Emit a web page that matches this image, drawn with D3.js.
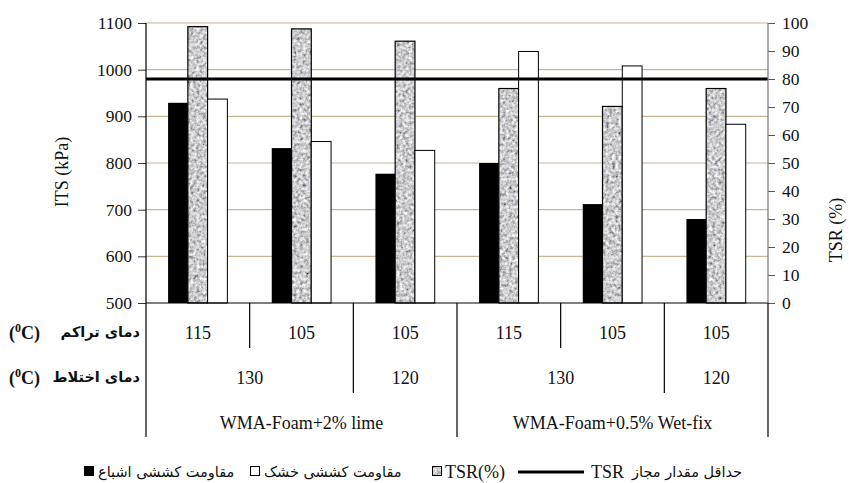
<!DOCTYPE html>
<html>
<head>
<meta charset="utf-8">
<script src="https://cdn.jsdelivr.net/npm/d3@7"></script>
<style>
  body { margin: 0; background: #fff; }
</style>
</head>
<body>
<script>
// chart values
const compactTemps = ["115", "105", "105", "115", "105", "105"];
const mixTemps = ["130", "130", "120", "130", "130", "120"];
const groups = ["WMA-Foam+2% lime", "WMA-Foam+2% lime", "WMA-Foam+2% lime",
                "WMA-Foam+0.5% Wet-fix", "WMA-Foam+0.5% Wet-fix", "WMA-Foam+0.5% Wet-fix"];
const itsWet = [929, 832, 777, 800, 712, 680];
const itsDry = [937, 846, 827, 1039, 1008, 883];
const tsr = [98.7, 97.9, 93.5, 76.6, 70.2, 76.6];
const tsrMin = 80;
const leftTicks = [500, 600, 700, 800, 900, 1000, 1100];
const rightTicks = [0, 10, 20, 30, 40, 50, 60, 70, 80, 90, 100];

const W = 849, H = 483;
const pL = 146, pR = 768, pT = 23, pB = 303;
const SERIF = "'Liberation Serif', 'Times New Roman', Tinos, 'DejaVu Serif', serif";
const FA = "'DejaVu Sans', 'Noto Sans', sans-serif";

const svg = d3.select("body").append("svg")
  .attr("width", W)
  .attr("height", H)
  .attr("font-family", SERIF);

// grey texture for TSR bars
const defs = svg.append("defs");
const f = defs.append("filter").attr("id", "granite")
  .attr("x", 0).attr("y", 0).attr("width", 1).attr("height", 1);
f.append("feTurbulence").attr("type", "fractalNoise")
  .attr("baseFrequency", 0.32).attr("numOctaves", 3).attr("seed", 5).attr("result", "n");
f.append("feColorMatrix").attr("in", "n").attr("type", "matrix")
  .attr("values", "0.85 0.85 0 0 -0.25  0.85 0.85 0 0 -0.25  0.85 0.85 0 0 -0.23  0 0 0 0 1")
  .attr("result", "g");
f.append("feComposite").attr("in", "g").attr("in2", "SourceGraphic").attr("operator", "in");

const idx = d3.range(compactTemps.length);
const x = d3.scaleBand().domain(idx).range([pL, pR]).padding(0);
const bw = x.bandwidth();
const sub = d3.scaleBand().domain(["wet", "tsr", "dry"])
  .range([bw * 0.213, bw * 0.785]).padding(0);
const yL = d3.scaleLinear().domain([500, 1100]).range([pB, pT]);
const yR = d3.scaleLinear().domain([0, 100]).range([pB, pT]);

// gridlines
svg.append("g").selectAll("line").data(leftTicks.slice(1)).join("line")
  .attr("x1", pL).attr("x2", pR)
  .attr("y1", d => yL(d)).attr("y2", d => yL(d))
  .attr("stroke", "#c8b795").attr("stroke-width", 1.2);

// left axis
const axL = svg.append("g").attr("transform", `translate(${pL},0)`)
  .call(d3.axisLeft(yL).tickValues(leftTicks).tickSize(8).tickPadding(6).tickFormat(d3.format("d")))
  .attr("font-family", SERIF).attr("font-size", 17.5);
axL.select(".domain").remove();
axL.selectAll("line").attr("stroke", "#333");
axL.selectAll("text").attr("fill", "#111");

// right axis
const axR = svg.append("g").attr("transform", `translate(${pR},0)`)
  .call(d3.axisRight(yR).tickValues(rightTicks).tickSize(7).tickPadding(7))
  .attr("font-family", SERIF).attr("font-size", 17.5);
axR.select(".domain").remove();
axR.selectAll("line").attr("stroke", "#555");
axR.selectAll("text").attr("fill", "#111");

// bars
const bars = svg.append("g");
bars.selectAll(".wet").data(idx).join("rect")
  .attr("x", i => x(i) + sub("wet")).attr("width", sub.bandwidth())
  .attr("y", i => yL(itsWet[i])).attr("height", i => pB - yL(itsWet[i]))
  .attr("fill", "#000");
bars.selectAll(".tsrfill").data(idx).join("rect")
  .attr("x", i => x(i) + sub("tsr")).attr("width", sub.bandwidth())
  .attr("y", i => yR(tsr[i])).attr("height", i => pB - yR(tsr[i]))
  .attr("fill", "#fff").attr("filter", "url(#granite)");
bars.selectAll(".tsrline").data(idx).join("rect")
  .attr("x", i => x(i) + sub("tsr")).attr("width", sub.bandwidth())
  .attr("y", i => yR(tsr[i])).attr("height", i => pB - yR(tsr[i]))
  .attr("fill", "none").attr("stroke", "#000").attr("stroke-width", 1.2);
bars.selectAll(".dry").data(idx).join("rect")
  .attr("x", i => x(i) + sub("dry")).attr("width", sub.bandwidth())
  .attr("y", i => yL(itsDry[i])).attr("height", i => pB - yL(itsDry[i]))
  .attr("fill", "#fff").attr("stroke", "#000").attr("stroke-width", 1);

// minimum TSR line
svg.append("line")
  .attr("x1", pL).attr("x2", pR)
  .attr("y1", yR(tsrMin)).attr("y2", yR(tsrMin))
  .attr("stroke", "#000").attr("stroke-width", 3);

// axis frame
const row1 = 348, row2 = 393, row3 = 437;
svg.append("line").attr("x1", pL).attr("x2", pR).attr("y1", pB).attr("y2", pB)
  .attr("stroke", "#000").attr("stroke-width", 1.2);
svg.append("line").attr("x1", pL).attr("x2", pL).attr("y1", pT).attr("y2", row3)
  .attr("stroke", "#000").attr("stroke-width", 1.2);
svg.append("line").attr("x1", pR).attr("x2", pR).attr("y1", pT).attr("y2", pB)
  .attr("stroke", "#777").attr("stroke-width", 1.2);
svg.append("line").attr("x1", pR).attr("x2", pR).attr("y1", pB).attr("y2", row3)
  .attr("stroke", "#000").attr("stroke-width", 1.2);

// category table dividers
const bounds = idx.slice(1);
svg.append("g").selectAll("line").data(bounds).join("line")
  .attr("x1", i => x(i)).attr("x2", i => x(i))
  .attr("y1", pB)
  .attr("y2", i => groups[i] !== groups[i - 1] ? row3 : (mixTemps[i] !== mixTemps[i - 1] ? row2 : row1))
  .attr("stroke", "#000").attr("stroke-width", 1.2);

// row 1: compaction temperatures
svg.append("g").selectAll("text").data(idx).join("text")
  .attr("x", i => x(i) + bw / 2).attr("y", 339)
  .attr("text-anchor", "middle").attr("font-size", 18).attr("fill", "#111")
  .text(i => compactTemps[i]);

// spans for row 2 and row 3
function spans(arr, breakOn) {
  const out = [];
  idx.forEach(i => {
    const last = out[out.length - 1];
    if (last && last.label === arr[i] && !(breakOn && breakOn[i] !== breakOn[i - 1])) last.to = i;
    else out.push({ label: arr[i], from: i, to: i });
  });
  return out;
}
const mixSpans = spans(mixTemps, groups);
const groupSpans = spans(groups);

svg.append("g").selectAll("text").data(mixSpans).join("text")
  .attr("x", d => (x(d.from) + x(d.to) + bw) / 2).attr("y", 384)
  .attr("text-anchor", "middle").attr("font-size", 18).attr("fill", "#111")
  .text(d => d.label);

svg.append("g").selectAll("text").data(groupSpans).join("text")
  .attr("x", d => (x(d.from) + x(d.to) + bw) / 2).attr("y", 429)
  .attr("text-anchor", "middle").attr("font-size", 18).attr("fill", "#111")
  .text(d => d.label);

// row titles
const rowTitles = [{ t: "دمای تراکم", y: 337 }, { t: "دمای اختلاط", y: 382 }];
rowTitles.forEach(r => {
  svg.append("text").attr("x", 140).attr("y", r.y)
    .attr("text-anchor", "end").attr("font-size", 14.5).attr("font-weight", "bold")
    .attr("font-family", FA).attr("fill", "#111")
    .text(r.t);
  const u = svg.append("text").attr("x", 9).attr("y", r.y + 2)
    .attr("font-size", 18).attr("font-weight", "bold").attr("fill", "#111");
  u.append("tspan").text("(");
  u.append("tspan").attr("font-size", 12).attr("dy", -7).text("0");
  u.append("tspan").attr("dy", 7).text("C)");
});

// axis titles
svg.append("text").attr("transform", "translate(68,172) rotate(-90)")
  .attr("text-anchor", "middle").attr("font-size", 18).attr("fill", "#111")
  .text("ITS (kPa)");
svg.append("text").attr("transform", "translate(842,230) rotate(-90)")
  .attr("text-anchor", "middle").attr("font-size", 18).attr("fill", "#111")
  .text("TSR (%)");

// legend
const lg = svg.append("g");
const ly = 477;
const persian = (xs, t) => lg.append("text").attr("x", xs).attr("y", ly)
  .attr("text-anchor", "start").attr("font-size", 14.5)
  .attr("font-family", FA).attr("fill", "#111").text(t);

lg.append("rect").attr("x", 84).attr("y", 466).attr("width", 10).attr("height", 10).attr("fill", "#000");
persian(98, "مقاومت کششی اشباع");
lg.append("rect").attr("x", 250.5).attr("y", 466.5).attr("width", 9).attr("height", 9)
  .attr("fill", "#fff").attr("stroke", "#000");
persian(264, "مقاومت کششی خشک");
lg.append("rect").attr("x", 432).attr("y", 466).attr("width", 10).attr("height", 10)
  .attr("fill", "#fff").attr("filter", "url(#granite)");
lg.append("rect").attr("x", 432.5).attr("y", 466.5).attr("width", 9).attr("height", 9)
  .attr("fill", "none").attr("stroke", "#000");
lg.append("text").attr("x", 445).attr("y", ly + 1).attr("font-size", 18).attr("fill", "#111").text("TSR(%)");
lg.append("line").attr("x1", 518).attr("x2", 584).attr("y1", 472).attr("y2", 472)
  .attr("stroke", "#000").attr("stroke-width", 3);
lg.append("text").attr("x", 591).attr("y", ly + 1).attr("font-size", 18).attr("fill", "#111").text("TSR");
persian(632, "حداقل مقدار مجاز");
</script>
</body>
</html>
